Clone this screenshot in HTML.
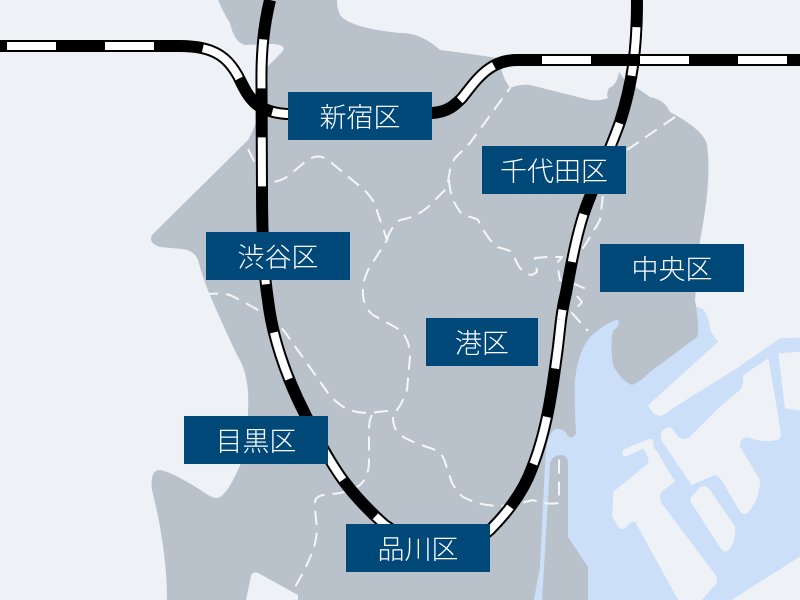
<!DOCTYPE html>
<html><head><meta charset="utf-8"><style>
html,body{margin:0;padding:0;background:#eef2f6}
svg{display:block}
text{font-family:"Liberation Sans","Noto Sans CJK JP",sans-serif;font-size:27px;fill:#fff;text-anchor:middle;font-weight:300}
.b{fill:none;stroke:#f4f6f9;stroke-width:2;stroke-dasharray:14 8;stroke-linejoin:round}
.w{fill:none;stroke:#fff;stroke-width:8;stroke-dasharray:49 49}
.k{fill:none;stroke:#000;stroke-width:12}
</style></head><body>
<svg width="800" height="600" viewBox="0 0 800 600" xmlns="http://www.w3.org/2000/svg">
<defs>
<path id="w1" d="M270,0 C264,25 261,50 261.5,85 L262,190 C262,240 264,275 268,300 C272,335 285,375 305,414"/>
<path id="w2" d="M305,414 C318,440 330,462 343,480 C355,496 368,510 385,525 L400,535"/>
<path id="e1" d="M637,0 C637,50 632,85 620,122 C610,150 597,178 590,197 C578,225 572,260 566,293 Q563,305 561,320"/>
<path id="e2" d="M561,320 C559,340 556,365 551,395 C547,420 541,445 532,468 C524,490 510,510 490,530 L460,555"/>
<path id="l1" d="M-91,46 L180,46 C215,46 228,58 238,76 C248,96 254,112 287,114 L300,114"/>
<path id="r1" d="M885,60 L517,60 C488,60 475,82 462,98 C455,105 448,112 432,113 L420,113"/>
</defs>
<rect width="800" height="600" fill="#eef2f6"/>
<g transform="translate(400,300) scale(.33333)">
<path fill="#cbdff8" d="M860,0 L885,20 Q905,20 915,35 Q930,60 930,85 Q940,110 955,125 L745,315 Q755,345 780,348 Q795,345 810,330 L1010,205 L1140,115 L1200,113 L1200,770 L995,900 L300,900 L300,0Z"/>
<path fill="#eef2f6" d="M1200,155 L1135,160 L1155,325 L1200,332Z"/>
<path fill="#eef2f6" d="M1105,175 L1030,225 Q1030,260 1020,270 L960,320 L870,410 Q855,425 835,410 L815,385 Q800,378 785,395 Q778,410 790,430 L875,555 L945,525 Q960,530 970,550 L1020,635 Q1035,650 1050,630 Q1080,590 1080,540 L1020,440 Q1020,410 1045,412 Q1090,430 1130,420 Q1145,415 1142,400 L1135,350Z"/>
<path fill="#eef2f6" d="M668,450 L745,417 Q758,415 760,425 L762,445 Q775,455 780,470 L825,545 L785,575 Q775,590 785,610 L950,830 L950,850 L905,900 L835,900 L705,665 Q690,665 680,680 Q665,695 655,680 L637,650 L640,575 L745,490 Q750,480 730,445 L680,468 Q665,470 668,458Z"/>
<path fill="#eef2f6" d="M872,592 L900,562 Q915,552 930,570 L1005,680 Q1008,725 985,752 Q975,760 962,745 L872,605Z"/>
<path fill="#eef2f6" d="M1200,770 L995,900 L1200,900Z"/>
</g>
<path fill="#b9c1cb" d="M218,0 Q224,14 230,23 Q234,42 245,45 L273,44 Q288,45 282,52 L267,67 L262,100 Q258,122 248,140 L152,235 Q148,243 160,247 L182,249 Q194,250 198,260 Q204,282 212,300 Q225,330 237,355 Q250,375 248,410 Q248,450 238,470 Q228,492 220,497 Q215,500 205,493 Q170,470 158,470 Q150,472 152,490 Q167,550 167,600 L246,600 L251,576 Q253,570 260,574 L298,595 L298,600 L534,600 L540,567 L545,467 Q546,432 556,429 Q564,428 568,436 Q573,440 576,433 Q574,395 575,380 Q578,350 592,335 Q610,320 618,320 Q621,325 613,331 Q610,340 613,365 Q620,380 632,385 Q640,382 650,372 L697,337 Q700,330 695,300 L700,240 Q712,180 707,145 Q704,130 670,112 Q665,100 650,97 L640,90 L625,80 L619,72 Q617,85 609,88 Q606,94 608,98 Q600,101 590,100 L530,85 Q520,84 510,88 L505,80 L497,58 Q480,55 440,50 Q420,32 400,33 Q350,28 340,15 Q337,8 337,0Z"/>
<path fill="#b9c1cb" d="M542,600 L550,463 Q552,456 560,455 Q568,455 568,463 L568,537 L588,567 L588,600Z"/>
<path fill="#cbdff8" d="M534,600 L540,567 L545,467 Q546,432 556,429 L562,440 L550,463 L542,600Z"/>
<g class="b">
<path d="M248,149 L255,163 Q262,178 273,182 Q285,180 293,172 L305,162 Q317,152 328,160 L362,188 Q372,197 375,205 L387,240 L368,270 Q362,283 363,295 Q364,308 373,315 L395,327 Q410,335 410,357 L407,390 Q403,402 397,410 L377,412 Q360,415 345,408 Q335,402 328,393 L287,335 Q278,322 263,313 Q250,305 230,295 Q218,293 208,294" class="b"/>
<path d="M387,240 Q390,228 400,220 Q415,218 428,207 L447,188 L450,170 Q452,163 455,158 L470,143 L510,88" class="b"/>
<path d="M449,180 Q450,192 453,200 Q458,210 463,215 Q475,218 478,220 Q483,230 488,237 Q493,244 497,247 Q510,250 513,253 Q516,263 520,268 Q527,275 532,275 L537,272 L535,258 L547,257 L562,257 L557,263 L560,280 L577,285 L588,290" class="b"/>
<path d="M675,117 L627,150 L603,195 L600,220 L587,242 L573,263 L572,290 L582,302 L572,313 L588,331" class="b"/>
<path d="M372,415 Q369,420 369,430 L369,460 Q369,470 367,473 Q365,482 357,487 Q350,491 340,493 L323,495 Q315,497 315,502 Q315,515 317,527 Q317,540 312,553 Q305,570 295,587" class="b"/>
<path d="M393,417 Q393,423 395,428 Q398,433 405,438 Q415,443 427,447 Q437,450 440,453 Q444,458 445,462 L452,483 Q458,493 463,497 Q475,503 487,505 Q505,507 517,504 L533,500 Q545,505 559,503 L559,455" class="b"/>
</g>
<use href="#w1" class="k"/>
<use href="#w2" class="k"/>
<use href="#e1" class="k"/>
<use href="#e2" class="k"/>
<use href="#w1" class="w" style="stroke-dashoffset:58"/>
<use href="#w2" class="w" style="stroke-dashoffset:71"/>
<use href="#e1" class="w" style="stroke-dashoffset:71"/>
<use href="#e2" class="w"/>
<use href="#l1" class="k"/>
<use href="#r1" class="k"/>
<use href="#l1" class="w"/>
<use href="#r1" class="w"/>
<g fill="#004877">
<rect x="288" y="92" width="144" height="48"/>
<rect x="482" y="146" width="144" height="48"/>
<rect x="206" y="232" width="144" height="48"/>
<rect x="600" y="244" width="144" height="48"/>
<rect x="426" y="318" width="112" height="48"/>
<rect x="184" y="416" width="144" height="48"/>
<rect x="346" y="524" width="144" height="48"/>
</g>
<text x="360" y="127">新宿区</text>
<text x="554" y="181">千代田区</text>
<text x="278" y="267">渋谷区</text>
<text x="672" y="279">中央区</text>
<text x="482" y="353">港区</text>
<text x="256" y="451">目黒区</text>
<text x="418" y="559">品川区</text>
</svg>
</body></html>
